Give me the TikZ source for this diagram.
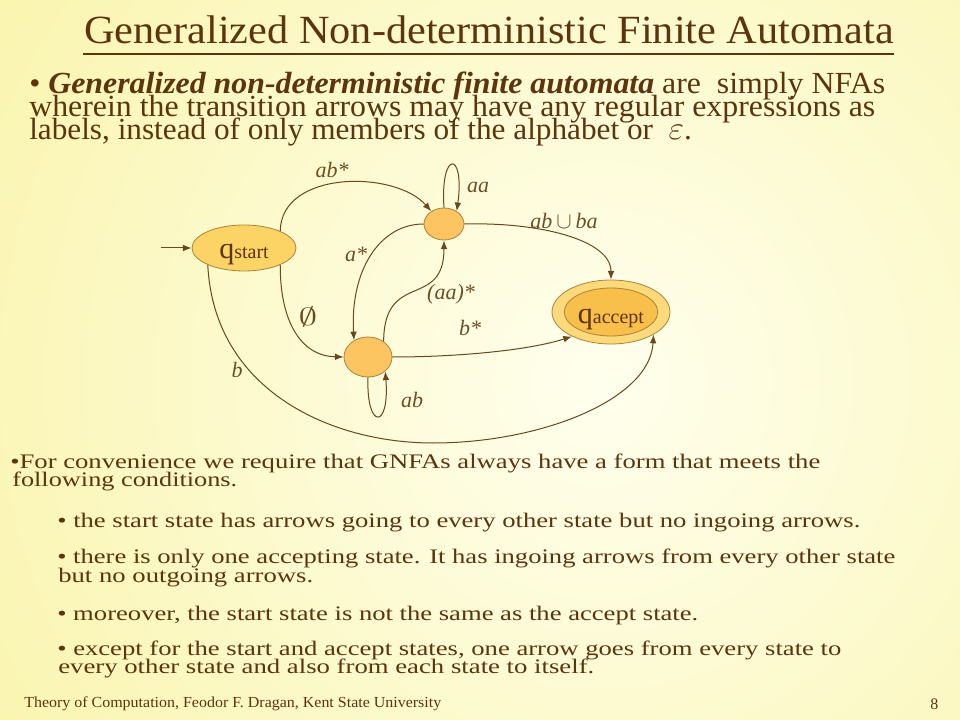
\documentclass[tikz,border=0pt]{standalone}
\usepackage{fontspec}
\setmainfont{Liberation Serif}
\usetikzlibrary{arrows.meta,shapes.geometric}
\definecolor{bgin}{RGB}{255,255,238}
\definecolor{bgout}{RGB}{247,239,140}
\definecolor{ink}{RGB}{92,52,14}
\definecolor{edgecol}{RGB}{104,72,30}
\definecolor{lab}{RGB}{110,78,35}
\definecolor{startfill}{RGB}{252,212,102}
\definecolor{midfill}{RGB}{253,196,98}
\definecolor{accout}{RGB}{252,218,124}
\definecolor{accin}{RGB}{248,192,74}
\definecolor{rim}{RGB}{170,130,60}
\newcommand{\fitto}[2]{\resizebox{#1}{\height}{#2}}
\tikzset{
  txt/.style={inner sep=0pt, text=ink, anchor=base west},
  statebox/.style={ellipse, draw=rim, line width=0.6pt, inner sep=0pt},
  edgeline/.style={draw=edgecol, line width=0.75pt, -{Latex[length=6.5pt,width=5pt]}},
  lbl/.style={inner sep=0pt, text=lab, font=\fontsize{16.5pt}{16.5pt}\selectfont\itshape},
}
\begin{document}
\begin{tikzpicture}[x=0.75pt,y=-0.75pt]
\useasboundingbox (0,0) rectangle (960,720);
\begin{scope}
  \clip (0,0) rectangle (960,720);
  \shade[inner color=bgin, outer color=bgout] (600,380) circle (825pt);
\end{scope}
% title
\node[txt, text=ink] (title) at (84,43.5) {\fitto{607pt}{\fontsize{30pt}{30pt}\selectfont Generalized Non-deterministic Finite Automata}};
\draw[ink, line width=1.5pt] (83,54) -- (894,54);
% intro paragraph
\node[txt] (p1a) at (29,94) {\fitto{642pt}{\fontsize{23pt}{23pt}\selectfont • \textbf{\textit{Generalized non-deterministic finite automata}} are\ \ simply NFAs}};
\node[txt] (p1b) at (29,117) {\fitto{634.5pt}{\fontsize{23pt}{23pt}\selectfont wherein the transition arrows may have any regular expressions as}};
\node[txt] (p1c) at (29,140) {\fitto{497pt}{\fontsize{23pt}{23pt}\selectfont labels, instead of only members of the alphabet or\ \ $\varepsilon$.}};
% states
\node[statebox, fill=startfill, minimum width=78pt, minimum height=34.5pt, text height=16.5pt, text depth=0pt, text=ink] (qs) at (244,248) {{\fontsize{22.5pt}{22.5pt}\selectfont q}{\fontsize{15pt}{15pt}\selectfont start}};
\node[statebox, fill=midfill, minimum width=30pt, minimum height=24pt] (q1) at (444,224) {};
\node[statebox, fill=midfill, minimum width=36pt, minimum height=30pt] (q2) at (368,357) {};
\node[statebox, fill=accout, minimum width=88.5pt, minimum height=48pt] (qa) at (611,312) {};
\node[statebox, fill=accin, minimum width=66pt, minimum height=36pt, text height=16.5pt, text depth=0pt, text=ink] (qai) at (qa.center) {{\fontsize{22.5pt}{22.5pt}\selectfont q}{\fontsize{15pt}{15pt}\selectfont accept}};
% edges
\coordinate (init) at (161,248);
\coordinate (bdip) at (433,443);
\draw[edgeline] (init) -- (qs.west);
\draw[edgeline] (qs.25) .. controls (281,170) and (395,170) .. (q1.135);
\draw[edgeline] (q1.90) .. controls (440,150) and (465,150) .. (q1.45);
\draw[edgeline] (q1.east) .. controls (540,222) and (611,240) .. (qa.north);
\draw[edgeline] (q1.west) .. controls (380,224) and (350,270) .. (q2.130);
\draw[edgeline] (q2.45) .. controls (384,270) and (444,310) .. (q1.south);
\draw[edgeline] (qs.-25) .. controls (280,320) and (300,356) .. (q2.west);
\draw[edgeline] (q2.east) .. controls (460,357) and (530,350) .. (qa.212);
\draw[edgeline] (q2.south) .. controls (366,430) and (390,430) .. (q2.-40);
\draw[edgeline] (qs.205) .. controls (214,390) and (330,443) .. (bdip) .. controls (540,443) and (650,400) .. (qa.-28);
% labels
\node[lbl] (l-abs) at (332,170) {ab*};
\node[lbl] (l-aa) at (478,187) {aa};
\node[lbl] (l-union) at (564,221) {ab$\,\cup\,$ba};
\node[lbl] (l-astar) at (356,254) {a*};
\node[lbl] (l-aastar) at (451,294) {(aa)*};
\node[lbl, text=edgecol] (l-empty) at (308,317) {\resizebox{14pt}{14pt}{$\emptyset$}};
\node[lbl] (l-bstar) at (470,328) {b*};
\node[lbl] (l-ab) at (412,400) {ab};
\node[lbl] (l-b) at (237,370) {b};
% conditions
\node[txt] (c0a) at (10,468) {\fitto{607.5pt}{\fontsize{15.5pt}{15.5pt}\selectfont •For convenience we require that GNFAs always have a form that meets the}};
\node[txt] (c0b) at (12,486) {\fitto{168.75pt}{\fontsize{15.5pt}{15.5pt}\selectfont following conditions.}};
\node[txt] (c1) at (57,527) {\fitto{602.25pt}{\fontsize{15.5pt}{15.5pt}\selectfont • the start state has arrows going to every other state but no ingoing arrows.}};
\node[txt] (c2a) at (57,563) {\fitto{628.5pt}{\fontsize{15.5pt}{15.5pt}\selectfont • there is only one accepting state. It has ingoing arrows from every other state}};
\node[txt] (c2b) at (58,582) {\fitto{191.25pt}{\fontsize{15.5pt}{15.5pt}\selectfont but no outgoing arrows.}};
\node[txt] (c3) at (57,620) {\fitto{480.75pt}{\fontsize{15.5pt}{15.5pt}\selectfont • moreover, the start state is not the same as the accept state.}};
\node[txt] (c4a) at (57,655) {\fitto{588pt}{\fontsize{15.5pt}{15.5pt}\selectfont • except for the start and accept states, one arrow goes from every state to}};
\node[txt] (c4b) at (58,673) {\fitto{402pt}{\fontsize{15.5pt}{15.5pt}\selectfont every other state and also from each state to itself.}};
% footer
\node[txt] (foot) at (24,707) {\fitto{312.75pt}{\fontsize{11.5pt}{11.5pt}\selectfont Theory of Computation, Feodor F. Dragan, Kent State University}};
\node[txt] (pg) at (930,709) {\fontsize{12pt}{12pt}\selectfont 8};
\end{tikzpicture}
\end{document}
